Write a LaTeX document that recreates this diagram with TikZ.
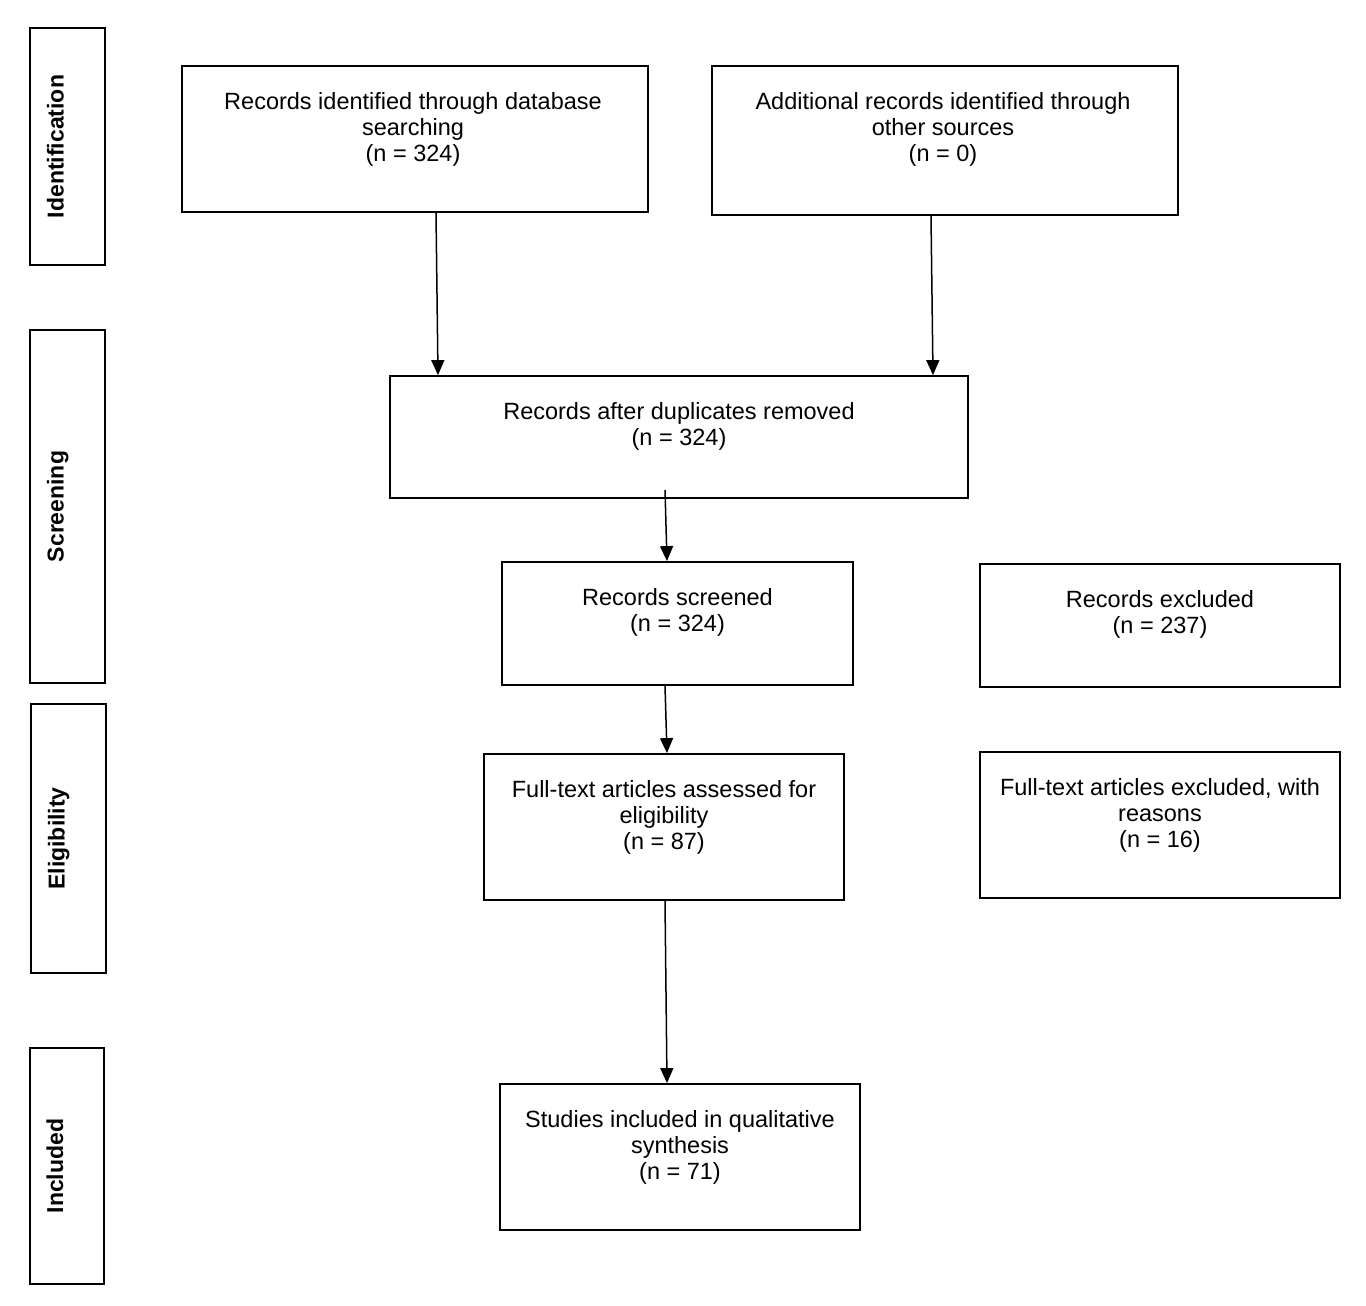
\documentclass[tikz,border=0pt]{standalone}
\usepackage{fontspec}
\setmainfont{Liberation Sans}
\usetikzlibrary{arrows.meta}
\begin{document}
\begin{tikzpicture}[x=1pt,y=1pt,
  box/.style={draw, line width=1.8pt, inner sep=0pt},
  side/.style={draw, line width=1.8pt, inner sep=0pt},
  txt/.style={anchor=north, align=center, inner sep=0pt, font=\fontsize{23.5}{26}\selectfont},
  sidetxt/.style={rotate=90, anchor=base, inner sep=0pt, font=\fontsize{23}{26}\selectfont\bfseries},
  arr/.style={line width=1.5pt, -{Triangle[length=15pt,width=13pt]}}]
\useasboundingbox (0,0) rectangle (1366,-1306);
\fill[white] (0,0) rectangle (1366,-1306);
% side boxes
\node[side, minimum width=75pt, minimum height=237pt] (s1) at (67.5,-146.5) {};
\node[side, minimum width=75pt, minimum height=353pt] (s2) at (67.5,-506.5) {};
\node[side, minimum width=75pt, minimum height=269pt] (s3) at (68.5,-838.5) {};
\node[side, minimum width=74pt, minimum height=236pt] (s4) at (67,-1166) {};
\node[sidetxt] (l1) at (63.5,-146.5) {Identification};
\node[sidetxt] (l2) at (63.5,-506.5) {Screening};
\node[sidetxt] (l3) at (64.5,-838.5) {Eligibility};
\node[sidetxt] (l4) at (63,-1166) {Included};
% main boxes
\node[box, minimum width=466pt, minimum height=146pt] (A) at (415,-139) {};
\node[box, minimum width=466pt, minimum height=149pt] (B) at (945,-140.5) {};
\node[box, minimum width=578pt, minimum height=122pt] (C) at (679,-437) {};
\node[box, minimum width=351pt, minimum height=123pt] (D) at (677.5,-623.5) {};
\node[box, minimum width=360pt, minimum height=123pt] (E) at (1160,-625.5) {};
\node[box, minimum width=360pt, minimum height=146pt] (F) at (664,-827) {};
\node[box, minimum width=360pt, minimum height=146pt] (G) at (1160,-825) {};
\node[box, minimum width=360pt, minimum height=146pt] (H) at (680,-1157) {};
% texts
\node[txt] (tA) at ([xshift=-2pt,yshift=-27.5pt]A.north) {Records identified through database\\searching\\(n = 324)};
\node[txt] (tB) at ([xshift=-2pt,yshift=-27.5pt]B.north) {Additional records identified through\\other sources\\(n = 0)};
\node[txt] (tC) at ([yshift=-27.5pt]C.north) {Records after duplicates removed\\(n = 324)};
\node[txt] (tD) at ([yshift=-27.5pt]D.north) {Records screened\\(n = 324)};
\node[txt] (tE) at ([yshift=-27.5pt]E.north) {Records excluded\\(n = 237)};
\node[txt] (tF) at ([yshift=-27.5pt]F.north) {Full-text articles assessed for\\eligibility\\(n = 87)};
\node[txt] (tG) at ([yshift=-27.5pt]G.north) {Full-text articles excluded, with\\reasons\\(n = 16)};
\node[txt] (tH) at ([yshift=-27.5pt]H.north) {Studies included in qualitative\\synthesis\\(n = 71)};
% arrows
\draw[arr] ([xshift=21pt]A.south) -- ([xshift=-241pt]C.north);
\draw[arr] ([xshift=-14pt]B.south) -- ([xshift=254pt]C.north);
\draw[arr] ([xshift=-14pt,yshift=9pt]C.south) -- ([xshift=-10.5pt]D.north);
\draw[arr] ([xshift=-12.5pt]D.south) -- ([xshift=3pt]F.north);
\draw[arr] ([xshift=1pt]F.south) -- ([xshift=-13pt]H.north);
\end{tikzpicture}
\end{document}
